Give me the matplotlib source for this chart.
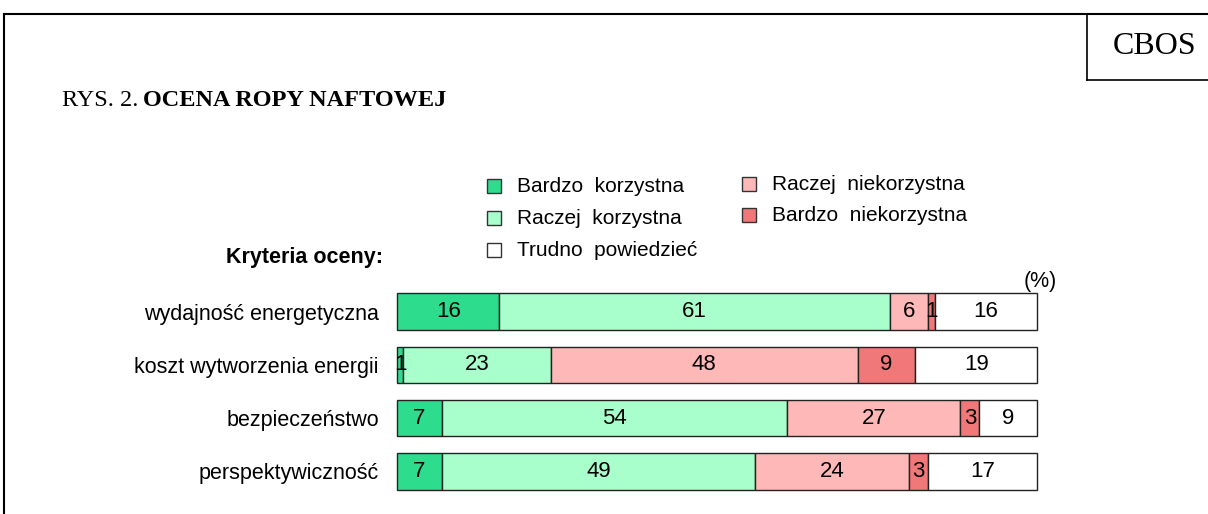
import matplotlib
matplotlib.use("Agg")
import matplotlib.pyplot as plt
from matplotlib.lines import Line2D
from matplotlib.patches import Rectangle

# data (percent)
categories = ["wydajność energetyczna", "koszt wytworzenia energii",
              "bezpieczeństwo", "perspektywiczność"]
bardzo_korzystna = [16, 1, 7, 7]
raczej_korzystna = [61, 23, 54, 49]
raczej_niekorzystna = [6, 48, 27, 24]
bardzo_niekorzystna = [1, 9, 3, 3]
trudno_powiedziec = [16, 19, 9, 17]

series = [bardzo_korzystna, raczej_korzystna, raczej_niekorzystna,
          bardzo_niekorzystna, trudno_powiedziec]
names = ["Bardzo  korzystna", "Raczej  korzystna", "Raczej  niekorzystna",
         "Bardzo  niekorzystna", "Trudno  powiedzieć"]
colors = ["#2edc8e", "#a8ffcc", "#ffb8b8", "#f07878", "#ffffff"]

W, H = 1208, 514
plt.rcParams['font.family'] = ['Liberation Sans', 'DejaVu Sans']
fig = plt.figure(figsize=(W / 100, H / 100), dpi=100)

def fx(px):
    return px / W

def fy(py):
    return 1 - py / H

# frame lines
fig.add_artist(Line2D([fx(4), 1], [fy(14), fy(14)], color="black", lw=1.5))
fig.add_artist(Line2D([fx(4), fx(4)], [fy(14), 0], color="black", lw=1.5))
fig.add_artist(Line2D([fx(1087), fx(1087)], [fy(14), fy(80)], color="black", lw=1.2))
fig.add_artist(Line2D([fx(1087), 1], [fy(80), fy(80)], color="black", lw=1.2))

fig.text(fx(1155), fy(47), "CBOS", fontsize=23, family="Liberation Serif",
         ha="center", va="center")

# title: plain prefix then bold part
t1 = fig.text(fx(62), fy(101), "RYS. 2.", fontsize=17.5, family="Liberation Serif",
              va="center")
r = fig.canvas.get_renderer()
bb = t1.get_window_extent(renderer=r)
fig.text(bb.x1 / W + fx(5), fy(101), "OCENA ROPY NAFTOWEJ", fontsize=17.5,
         family="Liberation Serif", weight="bold", va="center")

fig.text(fx(383), fy(257), "Kryteria oceny:", fontsize=15.5, weight="bold",
         ha="right", va="center")
fig.text(fx(1040), fy(281), "(%)", fontsize=15.5, ha="center", va="center")

# bars
ax = fig.add_axes([fx(397), fy(498), fx(1037) - fx(397), (498 - 285) / H])
y = list(range(len(categories)))
left = [0] * len(categories)
for vals, col in zip(series, colors):
    bars = ax.barh(y, vals, left=left, height=0.69, color=col,
                   edgecolor="#222222", linewidth=1)
    for b in bars:
        b.set_clip_on(False)
    for i, v in enumerate(vals):
        ax.text(left[i] + v / 2, y[i], str(v), ha="center", va="center",
                fontsize=16)
    left = [a + b for a, b in zip(left, vals)]

ax.set_xlim(0, 100)
ax.set_ylim(3.5, -0.5)
ax.set_yticks(y)
ax.set_yticklabels(categories, fontsize=15.5)
ax.tick_params(axis="y", length=0, pad=13)
ax.set_xticks([])
for s in ax.spines.values():
    s.set_visible(False)

# legend drawn by hand: first column 3 entries, second column 2
legend_pos = [(487, 186), (487, 218), (742, 184), (742, 215), (487, 250)]
for (px, py), name, col in zip(legend_pos, names, colors):
    fig.add_artist(Rectangle((fx(px), fy(py + 7)), 14 / W, 14 / H,
                             facecolor=col, edgecolor="#333333", lw=1))
    fig.text(fx(px + 30), fy(py), name, fontsize=15, va="center")

fig.savefig("out.png", dpi=100)
